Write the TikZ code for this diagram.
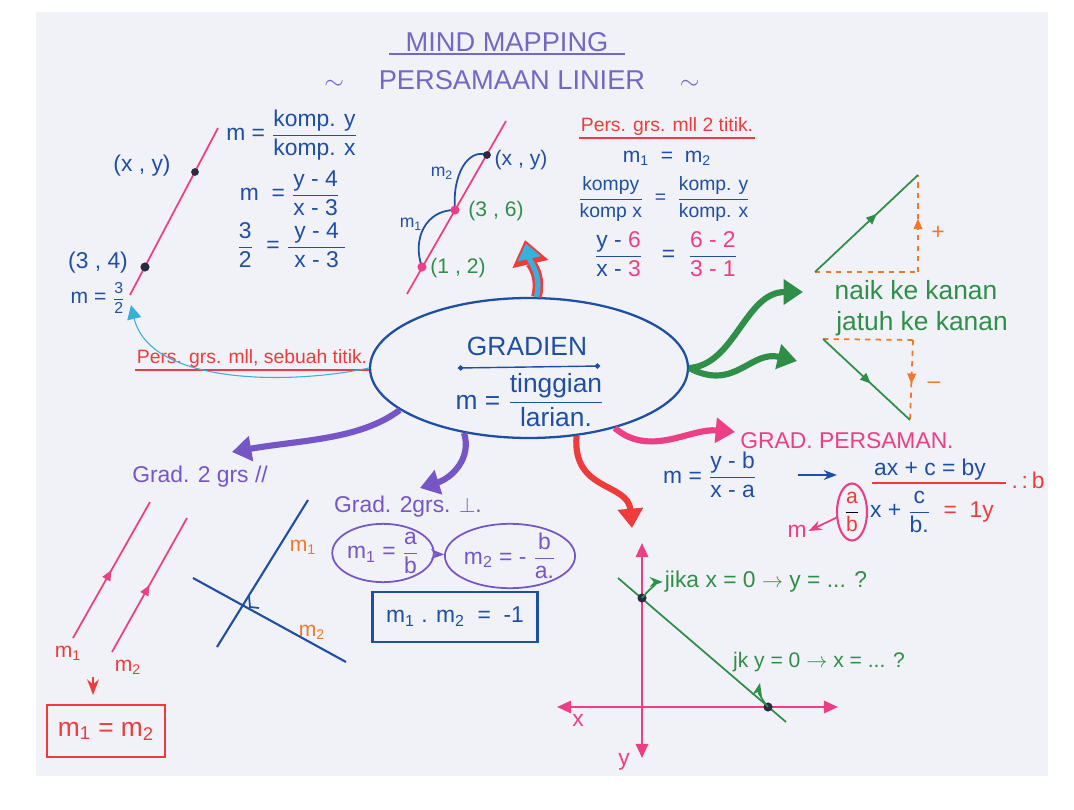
\documentclass[tikz,border=0pt]{standalone}
\usepackage{amsmath}
\usepackage{fontspec}
\setmainfont{Liberation Sans}
\usetikzlibrary{arrows.meta,shapes.geometric,decorations.markings}

\definecolor{paper}{HTML}{F1F1F8}
\definecolor{titlecol}{HTML}{7468C4}
\definecolor{penblue}{HTML}{1F4FA3}
\definecolor{penpink}{HTML}{EC3F86}
\definecolor{penred}{HTML}{EE3B3B}
\definecolor{pengreen}{HTML}{2F8F48}
\definecolor{penorange}{HTML}{F0782A}
\definecolor{penpurple}{HTML}{7656C6}
\definecolor{pencyan}{HTML}{38B0DC}
\definecolor{inkdark}{HTML}{2A2A40}

\newcommand{\hfrac}[2]{$\dfrac{\text{#1}}{\text{#2}}$}

\begin{document}
\begin{tikzpicture}[x=0.02cm,y=-0.02cm,
  every node/.style={font=\fontsize{12}{14}\selectfont, inner sep=1pt},
  fs10/.style={font=\fontsize{10}{12}\selectfont},
  fs11/.style={font=\fontsize{11}{13}\selectfont},
  fs13/.style={font=\fontsize{13}{15}\selectfont},
  fs15/.style={font=\fontsize{15}{18}\selectfont},
  fs16/.style={font=\fontsize{15.5}{18}\selectfont},
  ink/.style={line width=1pt},
  marker/.style={line width=3.5pt,-{Triangle[length=11pt,width=14pt]}},
  midarrow/.style={postaction={decorate},decoration={markings,mark=at position #1 with {\arrow{Triangle[length=6pt,width=5pt]}}}},
  oval/.style={draw=penpurple, ellipse, line width=1pt, inner sep=0pt, text=penpurple}]
\fill[white] (0,0) rectangle (1074,810);
\fill[paper] (36,12) rectangle (1048,776);
\useasboundingbox (0,0) rectangle (1074,810);

\node[titlecol, fs16] (ttlMind) at (507,42) {MIND MAPPING};
\draw[titlecol, line width=1.2pt, shorten <=-8pt, shorten >=-8pt] (ttlMind.south west) -- (ttlMind.south east);
\node[titlecol, fs16] (ttlPers) at (512,80) {$\sim$\quad\ PERSAMAAN LINIER\ \quad$\sim$};

\coordinate (tlLo) at (130,295);
\coordinate (tlHi) at (218,128);
\draw[penpink, ink] (tlLo) -- (tlHi);
\coordinate (ptXY) at (195,172);
\coordinate (pt34) at (145,267);
\fill[inkdark] (ptXY) circle (2.2pt);
\fill[inkdark] (pt34) circle (2.6pt);
\node[penblue, fs13] (lblXY) at (142,166) {(x , y)};
\node[penblue, fs13] (lbl34) at (98,263) {(3 , 4)};
\node[penblue] (lblM) at (98,298) {m = {\small\hfrac{3}{2}}};
\node[penblue, fs13] (eqKomp) at (292,135) {m = \hfrac{komp. y}{komp. x}};
\node[penblue, fs13] (eqSub) at (290,193) {m \ = \hfrac{y - 4}{x - 3}};
\node[penblue, fs13] (eqVal) at (292,245) {\hfrac{3}{2} \ = \hfrac{\ y - 4\ }{x - 3}};

\node[penred, fs11] (txtSebuah) at (252,359) {Pers. grs. mll, sebuah titik.};
\draw[penred, line width=1.4pt] (txtSebuah.south west) -- (txtSebuah.south east);

\node[draw=penblue, line width=1.3pt, ellipse, minimum width=6.36cm, minimum height=2.8cm] (grad) at (529,368) {};
\node[penblue, fs15] (gradT) at (527,346) {GRADIEN};
\draw[penblue, thick, {Circle[length=3pt]}-{Circle[length=3pt]}] (458,368) -- (600,366);
\node[penblue, fs15] (gradF) at (530,400) {m = \hfrac{tinggian}{larian.}};

\coordinate (cyanTip) at (131,305);
\draw[pencyan, semithick, -{Triangle[length=8pt,width=8pt]}] (grad.west) .. controls (290,385) and (150,385) .. (cyanTip);

\coordinate (tmLo) at (407,294);
\coordinate (tmHi) at (506,121);
\draw[penpink, ink] (tmLo) -- (tmHi);
\coordinate (pt12) at (422,267);
\coordinate (pt36) at (455,210);
\coordinate (ptXY2) at (487,155);
\draw[penblue, ink] (pt12) .. controls (412,240) and (425,210) .. (pt36);
\draw[penblue, ink] (pt36) .. controls (452,175) and (468,148) .. (ptXY2);
\fill[penpink] (pt12) circle (2.6pt);
\fill[penpink] (pt36) circle (2.6pt);
\fill[inkdark] (ptXY2) circle (2.2pt);
\node[penblue, fs10] (lblM2) at (442,173) {m\textsubscript{2}};
\node[penblue, fs10] (lblM1) at (411,224) {m\textsubscript{1}};
\node[penblue] (lblXY2) at (521,160) {(x , y)};
\node[pengreen] (lbl36) at (496,211) {(3 , 6)};
\node[pengreen] (lbl12) at (458,268) {(1 , 2)};

\coordinate (upTip) at (525,240);
\draw[penred, line width=6pt, -{Triangle[length=14pt,width=20pt]}] (grad.84) .. controls (542,275) and (530,262) .. (upTip);
\draw[pencyan, line width=3pt, shorten >=2pt, -{Triangle[length=9pt,width=13pt]}] (grad.84) .. controls (542,275) and (530,262) .. (upTip);

\node[penred, fs11] (txtDua) at (667,127) {Pers. grs. mll 2 titik.};
\draw[penred, line width=1.4pt] (txtDua.south west) -- (txtDua.south east);
\node[penblue] (eqM1M2) at (667,158) {m\textsubscript{1} \ = \ m\textsubscript{2}};
\node[penblue, fs11] (eqKp) at (664,199) {\hfrac{kompy}{komp x} \ = \ \hfrac{komp. y}{komp. x}};
\node[penblue, fs13] (eqVal2) at (666,254) {\hfrac{y - \textcolor{penpink}{6}}{x - \textcolor{penpink}{3}} \ \ = \ \hfrac{\textcolor{penpink}{6 - 2}}{\textcolor{penpink}{3 - 1}}};

\coordinate (upA) at (815,272);
\coordinate (upB) at (918,175);
\coordinate (upC) at (918,272);
\draw[penorange, ink, dashed] (upA) -- (upC);
\draw[penorange, ink, dashed, midarrow=.55] (upC) -- (upB);
\draw[pengreen, ink, midarrow=.6] (upA) -- (upB);
\node[penorange, fs13] (plus) at (938,233) {+};
\node[pengreen, fs15] (naik) at (916,290) {naik ke kanan};
\node[pengreen, fs15] (jatuh) at (922,324) {jatuh ke kanan};
\coordinate (dnA) at (823,339);
\coordinate (dnB) at (913,340);
\coordinate (dnC) at (910,420);
\draw[penorange, ink, dashed] (dnA) -- (dnB);
\draw[penorange, ink, dashed, midarrow=.55] (dnB) -- (dnC);
\draw[pengreen, ink, midarrow=.55] (dnA) -- (dnC);
\node[penorange, fs13] (minus) at (934,385) {--};

\coordinate (gUpTip) at (803,292);
\coordinate (gDnTip) at (797,361);
\draw[pengreen, marker] (grad.east) .. controls (735,365) and (745,292) .. (gUpTip);
\draw[pengreen, marker] (grad.east) .. controls (735,392) and (750,350) .. (gDnTip);

\coordinate (pTip) at (735,432);
\draw[penpink, marker] (grad.-35) .. controls (650,458) and (690,428) .. (pTip);
\node[penpink, fs13] (grdPers) at (847,441) {GRAD. PERSAMAN.};
\node[penblue, fs13] (eqMab) at (710,475) {m = \hfrac{y - b}{x - a}};
\node[penblue, fs13] (eqAx) at (930,470) {ax + c = by};
\draw[penblue, ink, -{Stealth}, shorten <=22pt, shorten >=20pt] (eqMab.east) -- (eqAx.west |- eqMab.east);
\draw[penred, ink, shorten >=-10pt] (eqAx.south west) -- (eqAx.south east);
\node[penred, fs13] (divB) at (1028,480) {.\,:\,b};
\node[draw=penpink, ellipse, line width=1.2pt, inner sep=0pt, minimum width=0.6cm, minimum height=0.8cm] (eqAb) at (852,512) {\hfrac{\textcolor{penred}{a}}{\textcolor{penred}{b}}};
\node[penblue, fs13, anchor=west] (eqRest) at (eqAb.east) {x + \hfrac{c}{b.} \textcolor{penred}{\ = \ 1y}};
\node[penpink, fs13] (lblMm) at (797,531) {m};
\draw[penpink, ink, -{Stealth}] (eqAb.200) -- (lblMm.east);

\coordinate (rTip) at (632,528);
\draw[penred, marker] (grad.-55) .. controls (572,492) and (628,482) .. (rTip);

\coordinate (axTop) at (642,543);
\coordinate (axBot) at (642,758);
\coordinate (axL) at (557,707);
\coordinate (axR) at (838,707);
\draw[penpink, line width=1.3pt, {Triangle[length=8pt,width=7pt]}-{Triangle[length=8pt,width=7pt]}] (axTop) -- (axBot);
\draw[penpink, line width=1.3pt, {Triangle[length=8pt,width=7pt]}-{Triangle[length=8pt,width=7pt]}] (axL) -- (axR);
\node[penpink, fs13] (lblX) at (578,720) {x};
\node[penpink, fs13] (lblY) at (624,762) {y};
\coordinate (lnA) at (618,578);
\coordinate (lnB) at (786,722);
\draw[pengreen, ink] (lnA) -- (lnB);
\coordinate (icY) at (642,598);
\coordinate (icX) at (768,707);
\fill[inkdark] (icY) circle (2.6pt);
\fill[inkdark] (icX) circle (2.6pt);
\node[pengreen, fs13] (jikaX) at (766,582) {jika x = 0 $\rightarrow$ y = ... ?};
\draw[pengreen, ink, -{Stealth}] (icY) .. controls (650,588) and (660,582) .. (jikaX.west);
\node[pengreen] (jikaY) at (819,662) {jk y = 0 $\rightarrow$ x = ... ?};
\coordinate (jkTip) at (760,683);
\draw[pengreen, ink, -{Stealth}] (icX) .. controls (762,700) and (758,692) .. (jkTip);

\coordinate (parTip) at (232,452);
\draw[penpurple, marker] (grad.-162) .. controls (360,440) and (300,440) .. (parTip);
\node[penpurple, fs13] (txtPar) at (200,477) {Grad. 2 grs //};
\coordinate (pl1a) at (73,638);
\coordinate (pl1b) at (150,502);
\coordinate (pl2a) at (112,652);
\coordinate (pl2b) at (187,518);
\draw[penpink, ink, midarrow=.5] (pl1a) -- (pl1b);
\draw[penpink, ink, midarrow=.5] (pl2a) -- (pl2b);
\node[penred] (lblPm1) at (68,653) {m\textsubscript{1}};
\node[penred] (lblPm2) at (128,667) {m\textsubscript{2}};
\coordinate (pArrA) at (93,677);
\coordinate (pArrB) at (93,695);
\draw[penred, line width=1.3pt, -{Stealth}] (pArrA) -- (pArrB);
\node[penred, fs15, draw=penred, line width=1.3pt, minimum width=2.36cm, minimum height=1.05cm] (boxEq) at (106,731) {m\textsubscript{1} = m\textsubscript{2}};

\coordinate (pp1a) at (217,647);
\coordinate (pp1b) at (308,500);
\coordinate (pp2a) at (193,578);
\coordinate (pp2b) at (346,662);
\draw[penblue, line width=1.2pt] (pp1a) -- (pp1b);
\draw[penblue, line width=1.2pt] (pp2a) -- (pp2b);
\draw[penblue, ink] (249,596) -- (250,607) -- (259,608);
\node[penorange] (lblPPm1) at (303,547) {m\textsubscript{1}};
\node[penorange] (lblPPm2) at (312,632) {m\textsubscript{2}};

\coordinate (perpTip) at (420,488);
\draw[penpurple, marker] (grad.-135) .. controls (472,458) and (452,478) .. (perpTip);
\node[penpurple, fs13] (txtPerp) at (408,507) {Grad. 2grs. $\perp$.};
\node[oval, fs13, minimum width=1.9cm, minimum height=1.15cm] (elM1) at (383,553) {m\textsubscript{1} = \hfrac{a}{b}};
\node[oval, fs13, minimum width=2.1cm, minimum height=1.15cm] (elM2) at (510,556) {m\textsubscript{2} = - \hfrac{b}{a.}};
\draw[penpurple, ink, -{Stealth}] (elM1) -- (elM2);
\node[penblue, fs13, draw=penblue, line width=1.2pt, minimum width=3.3cm, minimum height=1cm] (boxPerp) at (455,617) {m\textsubscript{1} . m\textsubscript{2} \ = \ -1};
\end{tikzpicture}
\end{document}
